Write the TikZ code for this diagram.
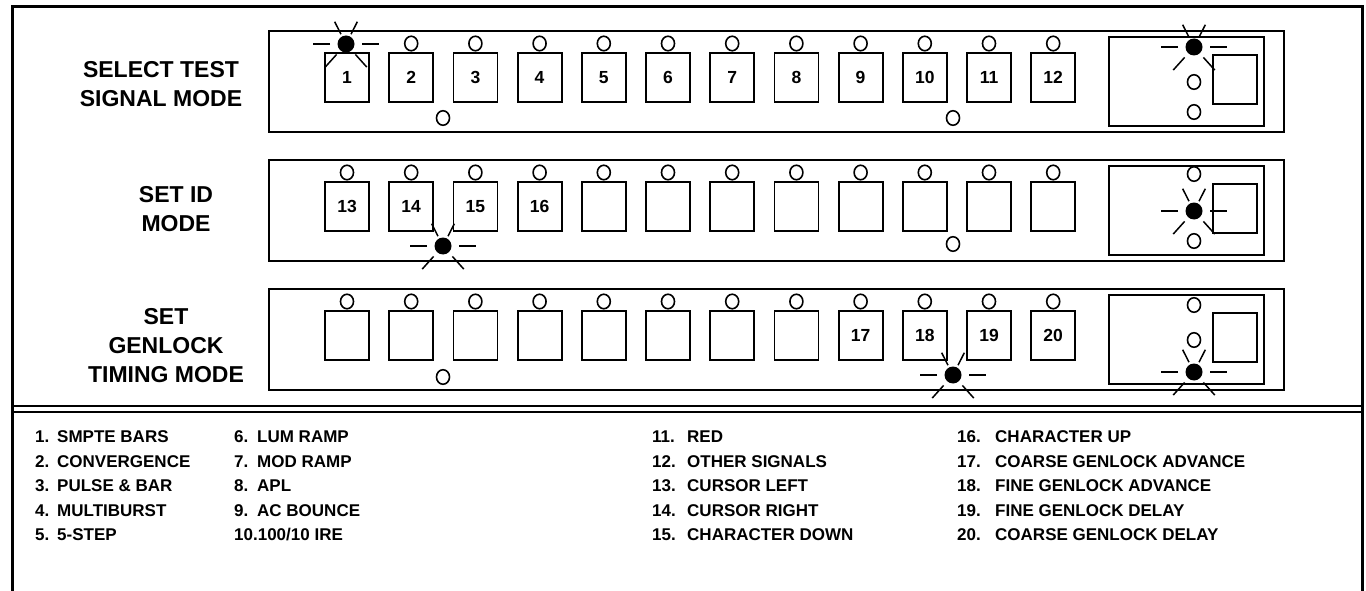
\documentclass[tikz,border=0pt]{standalone}
\usepackage{fontspec}
\setmainfont{Liberation Sans}
\usetikzlibrary{shapes.geometric}
\tikzset{
  frameline/.style={line width=3pt},
  panel/.style={draw, line width=1.8pt, inner sep=0pt, anchor=north west},
  btn/.style={draw, line width=1.8pt, minimum width=44pt, minimum height=49pt, inner sep=0pt,
    font=\fontsize{17.5}{17.5}\selectfont\bfseries},
  ledo/.style={draw, ellipse, line width=1.6pt, minimum width=13pt, minimum height=14.5pt, inner sep=0pt, fill=white},
  ledf/.style={circle, fill=black, minimum size=17pt, inner sep=0pt},
  stem/.style={line width=1.6pt},
  ray/.style={line width=1.5pt},
  modelabel/.style={align=center, font=\fontsize{23}{29}\selectfont\bfseries},
  legnum/.style={anchor=west, inner sep=0pt, font=\fontsize{17}{17}\selectfont\bfseries},
  legtxt/.style={anchor=west, inner sep=0pt, font=\fontsize{17}{17}\selectfont\bfseries}
}
\newcommand\lampRays[1]{%
  \foreach \a/\ri/\ro in {0/16/33,180/16/33,63/11/25,117/11/25,-48/14/31,-132/14/31}
    \draw[ray] ([shift={(\a:\ri pt)}]#1.center) -- ([shift={(\a:\ro pt)}]#1.center);%
}
\begin{document}
\begin{tikzpicture}[x=1pt,y=-1pt]
\useasboundingbox (0,0) rectangle (1366,591);
\fill[white] (0,0) rectangle (1366,591);
% outer frame
\coordinate (fbl) at (12,591);
\coordinate (ftl) at (12,7);
\coordinate (ftr) at (1362,7);
\coordinate (fbr) at (1362,591);
\draw[frameline] (fbl) -- (ftl) -- (ftr) -- (fbr);
% double separator
\coordinate (s1l) at (12,406); \coordinate (s1r) at (1362,406);
\coordinate (s2l) at (12,412); \coordinate (s2r) at (1362,412);
\draw[line width=2.6pt] (s1l) -- (s1r);
\draw[line width=1.8pt] (s2l) -- (s2r);

% panels
\foreach \p/\T in {1/30,2/159,3/288}{
  \node[panel, minimum width=1015pt, minimum height=101pt] (panel\p) at (268,\T) {};
  \node[panel, minimum width=155pt, minimum height=89pt] (ib\p) at (1108,\T+6) {};
  \node[panel, line width=1.7pt, minimum width=44pt, minimum height=49pt] (sq\p) at (1212,\T+24) {};
}

% buttons panel 1
\foreach \i/\lab in {0/1,1/2,2/3,3/4,4/5,5/6,6/7,7/8,8/9,9/10,10/11,11/12}{
  \node[btn] (b1-\i) at (347+64.2*\i,77.5) {\lab};
}
% buttons panel 2
\foreach \i/\lab in {0/13,1/14,2/15,3/16,4/{},5/{},6/{},7/{},8/{},9/{},10/{},11/{}}{
  \node[btn] (b2-\i) at (347+64.2*\i,206.5) {\lab};
}
% buttons panel 3
\foreach \i/\lab in {0/{},1/{},2/{},3/{},4/{},5/{},6/{},7/{},8/17,9/18,10/19,11/20}{
  \node[btn] (b3-\i) at (347+64.2*\i,335.5) {\lab};
}

% top LEDs
\foreach \i in {1,...,11}{
  \node[ledo] (c1-\i) at (347+64.2*\i,43.5) {};
  \draw[stem] (c1-\i.south) -- (b1-\i.north);
}
\node[ledf] (c1-0) at (346,44) {};
\draw[stem] (c1-0.south) -- (b1-0.north);
\lampRays{c1-0}
\foreach \p/\T in {2/159,3/288}{
  \foreach \i in {0,...,11}{
    \node[ledo] (c\p-\i) at (347+64.2*\i,\T+13.5) {};
    \draw[stem] (c\p-\i.south) -- (b\p-\i.north);
  }
}

% bottom LEDs
\node[ledo] (d1-a) at (443,118) {};
\node[ledo] (d1-b) at (953,118) {};
\node[ledf] (d2-a) at (443,246) {};
\lampRays{d2-a}
\node[ledo] (d2-b) at (953,244) {};
\node[ledo] (d3-a) at (443,377) {};
\node[ledf] (d3-b) at (953,375) {};
\lampRays{d3-b}

% right box LEDs
\node[ledf] (r1-a) at (1194,47) {};
\lampRays{r1-a}
\node[ledo] (r1-b) at (1194,82) {};
\node[ledo] (r1-c) at (1194,112) {};

\node[ledo] (r2-a) at (1194,174) {};
\node[ledf] (r2-b) at (1194,211) {};
\lampRays{r2-b}
\node[ledo] (r2-c) at (1194,241) {};

\node[ledo] (r3-a) at (1194,305) {};
\node[ledo] (r3-b) at (1194,340) {};
\node[ledf] (r3-c) at (1194,372) {};
\lampRays{r3-c}

% mode labels
\node[modelabel] (m1) at (161,84) {SELECT TEST\\SIGNAL MODE};
\node[modelabel] (m2) at (176,209) {SET ID\\MODE};
\node[modelabel] (m3) at (166,346) {SET\\GENLOCK\\TIMING MODE};

% legend
\foreach \r/\n/\t in {0/1./SMPTE BARS,1/2./CONVERGENCE,2/3./PULSE \& BAR,3/4./MULTIBURST,4/5./5-STEP}{
  \node[legnum] (ln\n) at (35,437+24.5*\r) {\n};
  \node[legtxt] (lt\n) at (57,437+24.5*\r) {\t};
}
\foreach \r/\n/\t in {0/6./LUM RAMP,1/7./MOD RAMP,2/8./APL,3/9./AC BOUNCE}{
  \node[legnum] (ln\n) at (234,437+24.5*\r) {\n};
  \node[legtxt] (lt\n) at (257,437+24.5*\r) {\t};
}
\node[legnum] (ln10) at (234,535) {10.100/10 IRE};
\foreach \r/\n/\t in {0/11./RED,1/12./OTHER SIGNALS,2/13./CURSOR LEFT,3/14./CURSOR RIGHT,4/15./CHARACTER DOWN}{
  \node[legnum] (ln\n) at (652,437+24.5*\r) {\n};
  \node[legtxt] (lt\n) at (687,437+24.5*\r) {\t};
}
\foreach \r/\n/\t in {0/16./CHARACTER UP,1/17./COARSE GENLOCK ADVANCE,2/18./FINE GENLOCK ADVANCE,3/19./FINE GENLOCK DELAY,4/20./COARSE GENLOCK DELAY}{
  \node[legnum] (ln\n) at (957,437+24.5*\r) {\n};
  \node[legtxt] (lt\n) at (995,437+24.5*\r) {\t};
}
\end{tikzpicture}
\end{document}
